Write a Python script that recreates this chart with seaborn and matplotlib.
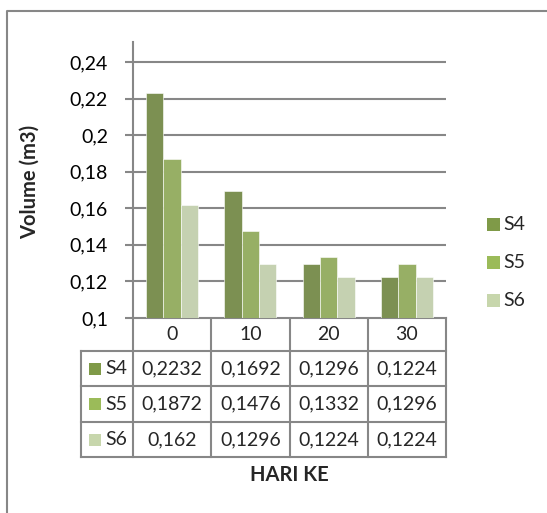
import matplotlib
matplotlib.use("Agg")
import matplotlib.pyplot as plt
from matplotlib.lines import Line2D
from matplotlib.patches import Rectangle
import seaborn as sns
import pandas as pd

# Data
days = ["0", "10", "20", "30"]
series_names = ["S4", "S5", "S6"]
s4 = [0.2232, 0.1692, 0.1296, 0.1224]
s5 = [0.1872, 0.1476, 0.1332, 0.1296]
s6 = [0.162, 0.1296, 0.1224, 0.1224]
y_ticks = [0.10, 0.12, 0.14, 0.16, 0.18, 0.20, 0.22, 0.24]

colors = ["#7F9A48", "#9BBB59", "#C7D6AC"]
grid_col = "#878787"

sns.set_theme(style="white")
plt.rcParams["font.family"] = ["Lato", "DejaVu Sans"]
FS = 14
TFS = 14.5

W, H = 547, 513
fig = plt.figure(figsize=(W / 100, H / 100), dpi=100)

# plot area in pixel coordinates
L, R, T, B = 133, 446, 42, 318
ax = fig.add_axes([L / W, 1 - B / H, (R - L) / W, (B - T) / H])

df = pd.DataFrame({
    "day": days * 3,
    "series": [n for n in series_names for _ in days],
    "volume": s4 + s5 + s6,
})
sns.barplot(data=df, x="day", y="volume", hue="series", order=days,
            hue_order=series_names, palette=colors, width=0.667,
            edgecolor="white", linewidth=0.4, ax=ax, legend=False)

ax.set_xlim(-0.5, len(days) - 0.5)
ymin, ymax = 0.10, 0.24
px_per_unit = (B - 62) / (ymax - ymin)
ax.set_ylim(ymin, ymax + (62 - T) / px_per_unit)
ax.set_yticks(y_ticks)
ax.set_yticklabels([f"{v:g}".replace(".", ",") for v in y_ticks], fontsize=FS, color="black")
ax.set_xticks([])
ax.set_xlabel("")
ax.set_ylabel("")
ax.yaxis.grid(True, color=grid_col, linewidth=1.5)
ax.set_axisbelow(True)
for side in ["top", "right", "bottom"]:
    ax.spines[side].set_visible(False)
ax.spines["left"].set_color(grid_col)
ax.spines["left"].set_linewidth(1.5)
ax.tick_params(axis="y", which="major", left=True, length=6, width=1.5,
               color=grid_col, pad=12, direction="out")

# overlay in pixel coordinates for the data table, legend, titles and frame
ov = fig.add_axes([0, 0, 1, 1], zorder=-1)
ov.set_xlim(0, W)
ov.set_ylim(H, 0)
ov.axis("off")

fig.canvas.draw()


def px_x(xd):
    return ax.transData.transform((xd, ymin))[0]


edges = [px_x(i - 0.5) for i in range(len(days) + 1)]
centers = [px_x(i) for i in range(len(days))]

tbl_left = 81
row_lines = [B, 351, 386, 422, 457]
lk = dict(color=grid_col, linewidth=1.5, solid_capstyle="projecting")

ov.add_line(Line2D([edges[0], edges[-1]], [row_lines[0], row_lines[0]], **lk))
for y in row_lines[1:]:
    ov.add_line(Line2D([tbl_left, edges[-1]], [y, y], **lk))
ov.add_line(Line2D([tbl_left, tbl_left], [row_lines[1], row_lines[-1]], **lk))
for x in edges:
    ov.add_line(Line2D([x, x], [row_lines[0], row_lines[-1]], **lk))

# header row with day labels
hy = (row_lines[0] + row_lines[1]) / 2
for cx, d in zip(centers, days):
    ov.text(cx, hy, d, ha="center", va="center", fontsize=FS)

# value rows
for r, (name, vals, col) in enumerate(zip(series_names, [s4, s5, s6], colors)):
    cy = (row_lines[r + 1] + row_lines[r + 2]) / 2
    ov.add_patch(Rectangle((89, cy - 6), 12, 12, facecolor=col, edgecolor="none"))
    ov.text(105, cy, name, ha="left", va="center", fontsize=FS)
    for cx, v in zip(centers, vals):
        ov.text(cx, cy, f"{v:g}".replace(".", ","), ha="center", va="center", fontsize=FS)

# axis titles
ov.text((edges[0] + edges[-1]) / 2, 475, "HARI KE", ha="center", va="center",
        fontsize=TFS, fontweight="bold")
ov.text(30, 182, "Volume (m3)", ha="center", va="center", rotation=90,
        fontsize=TFS, fontweight="bold")

# legend
for i, (name, col) in enumerate(zip(series_names, colors)):
    ly = 224 + i * 38
    ov.add_patch(Rectangle((487, ly - 6), 13, 13, facecolor=col, edgecolor="none"))
    ov.text(503, ly, name, ha="left", va="center", fontsize=FS)

# chart frame
ov.add_line(Line2D([7, 7, W], [H, 11, 11], color=grid_col, linewidth=1.5))

fig.savefig("out.png", dpi=100)
